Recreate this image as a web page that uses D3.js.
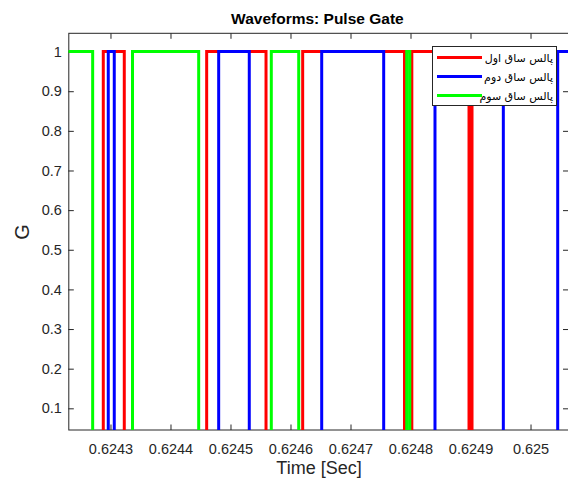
<!DOCTYPE html>
<html>
<head>
<meta charset="utf-8">
<script src="https://cdn.jsdelivr.net/npm/d3@7"></script>
<style>
  html, body { margin: 0; padding: 0; background: #fff; }
  svg { display: block; }
</style>
</head>
<body>
<svg id="chart" width="568" height="479"></svg>
<script>
// Time window shown on the x axis (seconds)
const timeWindow = [0.6242297, 0.6250633];
const gateWindow = [0.0453, 1.0461];

// Gate pulses: switching instants (s) and the gate level held after each instant
const redTime  = [0.6242297, 0.6242880, 0.6243230, 0.6244603, 0.6245592, 0.6246203, 0.6247900, 0.6248022, 0.6248975, 0.6249025, 0.6250633];
const redGate  = [0, 1, 0, 1, 0, 1, 0, 1, 0, 1, 1];
const blueTime = [0.6242297, 0.6242963, 0.6243063, 0.6244803, 0.6245313, 0.6246520, 0.6247553, 0.6248408, 0.6249547, 0.6250453, 0.6250633];
const blueGate = [0, 1, 0, 1, 0, 1, 0, 1, 0, 1, 1];
const greenTime = [0.6242297, 0.6242703, 0.6243367, 0.6244470, 0.6245680, 0.6246137, 0.6247937, 0.6247988, 0.6250633];
const greenGate = [1, 0, 1, 0, 1, 0, 1, 0, 0];

const seriesNames = ["پالس ساق اول", "پالس ساق دوم", "پالس ساق سوم"];
const seriesColors = ["#ff0000", "#0000ff", "#00ff00"];

const xTicks = [0.6243, 0.6244, 0.6245, 0.6246, 0.6247, 0.6248, 0.6249, 0.625];
const xTickLabels = ["0.6243", "0.6244", "0.6245", "0.6246", "0.6247", "0.6248", "0.6249", "0.625"];
const yTicks = [0.1, 0.2, 0.3, 0.4, 0.5, 0.6, 0.7, 0.8, 0.9, 1];
const yTickLabels = ["0.1", "0.2", "0.3", "0.4", "0.5", "0.6", "0.7", "0.8", "0.9", "1"];

const plot = { left: 68.3, right: 568.5, top: 33.3, bottom: 430 };
const axisColor = "#262626";
const font = "'Liberation Sans', Arial, Helvetica, sans-serif";

const svg = d3.select("#chart");
const x = d3.scaleLinear().domain(timeWindow).range([plot.left, plot.right]);
const y = d3.scaleLinear().domain(gateWindow).range([plot.bottom, plot.top]);

svg.append("defs").append("clipPath").attr("id", "plotClip")
  .append("rect")
  .attr("x", plot.left).attr("y", plot.top)
  .attr("width", plot.right - plot.left).attr("height", plot.bottom - plot.top);

// Axes box with inward ticks on all four sides
const tickLen = 5.5;
const axes = svg.append("g");
axes.append("rect")
  .attr("x", plot.left + 0.5).attr("y", plot.top)
  .attr("width", plot.right - plot.left).attr("height", plot.bottom - plot.top)
  .attr("fill", "none").attr("stroke", axisColor).attr("stroke-width", 1);

const xBottom = d3.axisBottom(x).tickValues(xTicks).tickSizeInner(-tickLen).tickSizeOuter(0)
  .tickFormat((d, i) => xTickLabels[i]).tickPadding(14);
const gxb = svg.append("g").attr("transform", `translate(0,${plot.bottom})`).call(xBottom);
const xTop = d3.axisTop(x).tickValues(xTicks).tickSizeInner(-tickLen).tickSizeOuter(0).tickFormat("");
const gxt = svg.append("g").attr("transform", `translate(0,${plot.top})`).call(xTop);
const yLeft = d3.axisLeft(y).tickValues(yTicks).tickSizeInner(-tickLen).tickSizeOuter(0)
  .tickFormat((d, i) => yTickLabels[i]).tickPadding(6.5);
const gyl = svg.append("g").attr("transform", `translate(${plot.left},0)`).call(yLeft);
const yRight = d3.axisRight(y).tickValues(yTicks).tickSizeInner(-tickLen).tickSizeOuter(0).tickFormat("");
const gyr = svg.append("g").attr("transform", `translate(${plot.right},0)`).call(yRight);

[gxb, gxt, gyl, gyr].forEach(g => {
  g.select(".domain").remove();
  g.selectAll(".tick line").attr("stroke", axisColor).attr("stroke-width", 1);
  g.selectAll(".tick text").attr("fill", axisColor)
    .style("font-family", font).style("font-size", "14.5px");
});

// Gate waveforms drawn as stair steps
const stairs = d3.line().curve(d3.curveStepAfter).x(d => x(d[0])).y(d => y(d[1]));
const series = [
  d3.zip(redTime, redGate),
  d3.zip(blueTime, blueGate),
  d3.zip(greenTime, greenGate)
];
const lines = svg.append("g").attr("clip-path", "url(#plotClip)");
series.forEach((pts, i) => {
  lines.append("path")
    .attr("d", stairs(pts))
    .attr("fill", "none")
    .attr("stroke", seriesColors[i])
    .attr("stroke-width", 3)
    .attr("stroke-linejoin", "miter");
});

// Title and axis labels
svg.append("text")
  .attr("x", (plot.left + 566.5) / 2).attr("y", 24)
  .attr("text-anchor", "middle")
  .style("font-family", font).style("font-size", "15.5px").style("font-weight", "bold")
  .attr("fill", "#000")
  .text("Waveforms: Pulse Gate");

svg.append("text")
  .attr("x", 319).attr("y", 474)
  .attr("text-anchor", "middle")
  .style("font-family", font).style("font-size", "18px")
  .attr("fill", axisColor)
  .text("Time [Sec]");

svg.append("text")
  .attr("transform", `translate(29,232) rotate(-90)`)
  .attr("text-anchor", "middle")
  .style("font-family", font).style("font-size", "20px")
  .attr("fill", axisColor)
  .text("G");

// Legend
const legend = svg.append("g");
legend.append("rect")
  .attr("x", 432.5).attr("y", 46.5).attr("width", 124).attr("height", 59)
  .attr("fill", "#fff").attr("stroke", axisColor).attr("stroke-width", 1);
seriesNames.forEach((name, i) => {
  const ry = 57.5 + i * 19;
  legend.append("line")
    .attr("x1", 437).attr("x2", 482).attr("y1", ry).attr("y2", ry)
    .attr("stroke", seriesColors[i]).attr("stroke-width", 3);
  legend.append("text")
    .attr("x", 553).attr("y", ry + 4)
    .attr("text-anchor", "end")
    .style("font-family", "'DejaVu Sans', 'Noto Sans', sans-serif").style("font-size", "11px")
    .attr("fill", "#000")
    .text(name);
});
</script>
</body>
</html>
